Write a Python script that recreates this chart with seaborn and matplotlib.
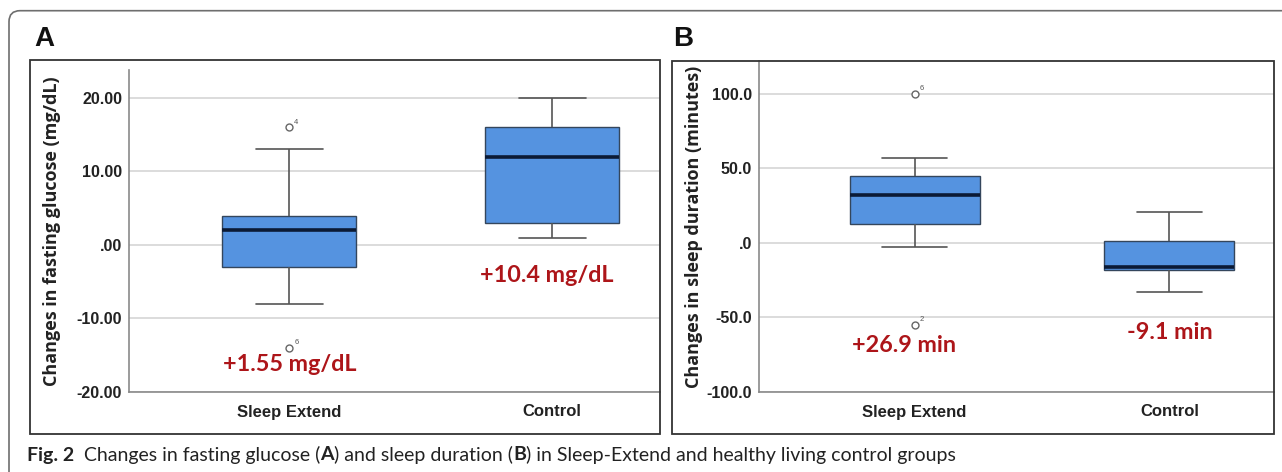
import numpy as np
import pandas as pd
import matplotlib
matplotlib.use("Agg")
import matplotlib.pyplot as plt
from matplotlib import font_manager
from matplotlib.patches import Rectangle, FancyBboxPatch
from matplotlib.transforms import IdentityTransform
import seaborn as sns

# 1. Values
groups = ["Sleep Extend", "Control"]

# change in fasting glucose (mg/dL), per group
glucose_sleep_extend = [-14, -8, -3, -3, 2, 4, 4, 13, 16]
glucose_control = [1, 3, 3, 12, 16, 16, 20]

# change in sleep duration (minutes), per group
sleep_sleep_extend = [-55, -3, 13, 13, 32, 45, 45, 57, 100]
sleep_control = [-33, -18, -18, -16, 1, 1, 21]

# outliers of the Sleep Extend group and their case numbers
glucose_outliers = [16, -14]
glucose_outlier_ids = ["4", "6"]
sleep_outliers = [100, -55]
sleep_outlier_ids = ["6", "2"]

# mean changes written under the boxes
glucose_changes = ["+1.55 mg/dL", "+10.4 mg/dL"]
sleep_changes = ["+26.9 min", "-9.1 min"]

glucose_ticks = [-20, -10, 0, 10, 20]
glucose_ticklabels = ["-20.00", "-10.00", ".00", "10.00", "20.00"]
sleep_ticks = [-100, -50, 0, 50, 100]
sleep_ticklabels = ["-100.0", "-50.0", ".0", "50.0", "100.0"]

# 2. Style
sns.set_style("white")
installed = {f.name for f in font_manager.fontManager.ttflist}
spss_font = "Liberation Sans Narrow" if "Liberation Sans Narrow" in installed else "Liberation Sans"
plt.rcParams["font.family"] = ["Liberation Sans", "DejaVu Sans"]

BOX = "#5593e0"
RED = "#ad1519"
W, H = 1282, 472

fig = plt.figure(figsize=(W / 100, H / 100), dpi=100)


def px_rect(x0, y0, x1, y1, **kw):
    # rectangle given in image pixels (top-left origin)
    return Rectangle((x0, H - y1), x1 - x0, y1 - y0, transform=IdentityTransform(), fill=False, **kw)


# outer rounded border of the figure box
fig.add_artist(FancyBboxPatch((9, -60), 1400, H - 10.7 + 60, boxstyle="round,pad=0,rounding_size=11",
                              transform=IdentityTransform(), fill=False, edgecolor="#6e6e6e", linewidth=1.2))
# panel frames
fig.add_artist(px_rect(30, 60, 660, 434, edgecolor="#333333", linewidth=1.3))
fig.add_artist(px_rect(672, 60.5, 1274, 434, edgecolor="#333333", linewidth=1.3))


def draw_panel(ax, values, ticks, ticklabels, ylim, ylabel, label_x, outliers, outlier_ids,
               changes, change_x, change_y):
    df = pd.DataFrame({
        "group": np.repeat(groups, [len(v) for v in values]),
        "value": np.concatenate(values),
    })
    sns.boxplot(data=df, x="group", y="value", order=groups, ax=ax, color=BOX, saturation=1,
                width=0.51, whis=1.5,
                boxprops=dict(edgecolor="#34465c", linewidth=1.0),
                medianprops=dict(color="#0b1a35", linewidth=2.6),
                whiskerprops=dict(color="#555555", linewidth=1.2),
                capprops=dict(color="#555555", linewidth=1.2),
                flierprops=dict(marker="o", markerfacecolor="white", markeredgecolor="#666666",
                                markersize=5, markeredgewidth=1.0))
    ax.set_xlim(-0.61, 1.41)
    ax.set_ylim(*ylim)
    ax.set_yticks(ticks)
    ax.set_yticklabels(ticklabels)
    ax.set_axisbelow(True)
    ax.yaxis.grid(True, color="#dcdcdc", linewidth=1.4)
    ax.xaxis.grid(False)
    for side in ["top", "right"]:
        ax.spines[side].set_visible(False)
    for side in ["left", "bottom"]:
        ax.spines[side].set_color("#8a8a8a")
        ax.spines[side].set_linewidth(1.2)
    ax.tick_params(axis="y", length=0, pad=5)
    ax.tick_params(axis="x", length=0, pad=9)
    for lab in ax.get_yticklabels():
        lab.set_fontfamily(spss_font)
        lab.set_fontweight("bold")
        lab.set_fontsize(11.5)
        lab.set_color("#222222")
    for lab in ax.get_xticklabels():
        lab.set_fontfamily(spss_font)
        lab.set_fontweight("bold")
        lab.set_fontsize(12)
        lab.set_color("#222222")
    ax.set_xlabel("")
    ax.set_ylabel(ylabel, fontfamily="Open Sans", fontweight="bold", fontsize=13, color="#222222")
    ax.yaxis.label.set_va("center")
    ax.yaxis.set_label_coords(label_x, 0.5)
    # case numbers next to the outliers
    for v, cid in zip(outliers, outlier_ids):
        ax.annotate(cid, (0, v), xytext=(3.5, 2.5), textcoords="offset points", fontsize=5.5, color="#555555")
    for txt, x, y in zip(changes, change_x, change_y):
        ax.text(x, y, txt, ha="center", va="center", color=RED, fontfamily="Lato", fontweight="bold",
                fontsize=16.8)


ax_a = fig.add_axes([129 / W, 1 - 392 / H, (660 - 129) / W, (392 - 70) / H])
draw_panel(ax_a, [glucose_sleep_extend, glucose_control], glucose_ticks, glucose_ticklabels, (-20, 23.8),
           "Changes in fasting glucose (mg/dL)", (52 - 129) / 531, glucose_outliers, glucose_outlier_ids,
           glucose_changes, [0.0, 0.98], [-16.3, -4.2])

ax_b = fig.add_axes([759 / W, 1 - 392 / H, (1274 - 759) / W, (392 - 61) / H])
draw_panel(ax_b, [sleep_sleep_extend, sleep_control], sleep_ticks, sleep_ticklabels, (-100, 122),
           "Changes in sleep duration (minutes)", (694 - 759) / 515, sleep_outliers, sleep_outlier_ids,
           sleep_changes, [-0.04, 1.0], [-69, -60.4])

# panel letters
fig.text(44 / W, 1 - 39 / H, "A", ha="center", va="center", fontsize=20, fontweight="bold", color="#111111")
fig.text(683 / W, 1 - 39 / H, "B", ha="center", va="center", fontsize=20, fontweight="bold", color="#111111")

# 3. Caption with bold pieces, laid out one after another
caption = [("Fig. 2", "bold"), ("  Changes in fasting glucose (", "normal"), ("A", "bold"),
           (") and sleep duration (", "normal"), ("B", "bold"),
           (") in Sleep-Extend and healthy living control groups", "normal")]
fig.canvas.draw()
renderer = fig.canvas.get_renderer()
x = 27
for piece, weight in caption:
    t = fig.text(x / W, 1 - 455 / H, piece, ha="left", va="center", fontfamily="Lato", fontweight=weight,
                 fontsize=14, color="#222222")
    x += t.get_window_extent(renderer).width

fig.savefig("out.png", dpi=100)
